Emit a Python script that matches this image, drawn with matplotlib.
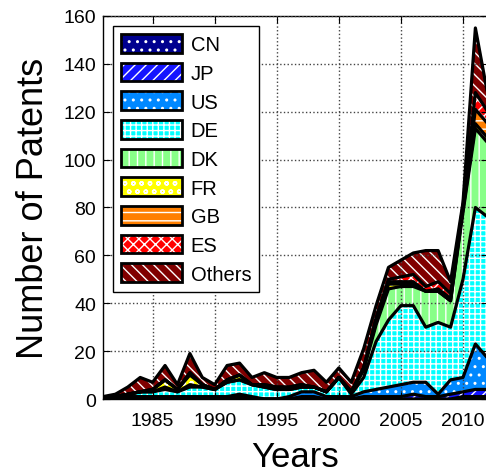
import numpy as np
import matplotlib
matplotlib.use("Agg")
import matplotlib.pyplot as plt
from matplotlib.patches import Patch

plt.rcParams["font.family"] = ["Liberation Sans", "DejaVu Sans"]

# Patent counts per year and applicant country
years = list(range(1981, 2013))
cn = [0, 0, 0, 0, 0, 0, 0, 0, 0, 0, 0, 1, 0, 0, 0, 0, 0, 0, 0, 0, 0, 0, 0, 0, 0, 0, 0, 0, 0, 1, 1, 1]
jp = [0, 0, 0, 0, 0, 0, 0, 0, 0, 0, 0, 0, 0, 0, 0, 0, 1, 1, 0, 0, 0, 1, 1, 1, 1, 2, 1, 1, 2, 2, 3, 3]
us = [0, 0, 1, 1, 1, 1, 1, 1, 1, 1, 1, 1, 1, 0, 0, 1, 2, 2, 1, 1, 1, 2, 3, 4, 5, 5, 6, 1, 6, 6, 19, 13]
de = [0, 1, 1, 2, 2, 3, 2, 4, 4, 3, 6, 6, 5, 5, 4, 3, 2, 2, 2, 8, 1, 6, 20, 28, 33, 32, 23, 30, 22, 41, 57, 59]
dk = [0, 0, 0, 0, 0, 1, 0, 1, 0, 0, 0, 0, 0, 0, 0, 0, 0, 0, 0, 0, 1, 3, 7, 13, 8, 8, 15, 13, 11, 28, 33, 31]
fr = [0, 0, 0, 0, 1, 3, 1, 4, 1, 0, 1, 2, 0, 0, 0, 0, 0, 0, 0, 0, 0, 1, 1, 2, 1, 1, 0, 0, 0, 1, 2, 2]
gb = [0, 0, 0, 0, 0, 0, 0, 1, 0, 0, 0, 0, 0, 1, 1, 1, 1, 0, 0, 0, 0, 0, 1, 1, 1, 1, 0, 1, 1, 1, 6, 6]
es = [0, 0, 0, 0, 0, 0, 0, 0, 0, 0, 0, 0, 0, 0, 0, 0, 0, 0, 0, 0, 0, 0, 1, 1, 2, 3, 2, 3, 2, 1, 7, 5]
others = [1, 1, 3, 6, 3, 6, 2, 8, 3, 2, 6, 5, 3, 5, 4, 4, 5, 7, 4, 4, 4, 8, 5, 5, 7, 9, 15, 13, 5, 1, 27, 7]

labels = ["CN", "JP", "US", "DE", "DK", "FR", "GB", "ES", "Others"]
series = [cn, jp, us, de, dk, fr, gb, es, others]
colors = ["#00008F", "#1414FF", "#0088FF", "#00FFFF", "#88FF88",
          "#FFFF00", "#FF7F00", "#FF0000", "#800000"]
hatches = ["..", "///", "..", "+++", "||", "oo", "--", "xxx", "\\\\\\"]

x_ticks = [1985, 1990, 1995, 2000, 2005, 2010]
y_ticks = [0, 20, 40, 60, 80, 100, 120, 140, 160]

fig = plt.figure(figsize=(4.86, 4.77), dpi=100)
ax = fig.add_axes([0.2119, 0.1614, 0.7918, 0.803])

x = np.array(years, dtype=float)
bottom = np.zeros(len(years))
for vals, c, h in zip(series, colors, hatches):
    top = bottom + np.array(vals, dtype=float)
    ax.fill_between(x, bottom, top, facecolor=c, edgecolor="white",
                    hatch=h, linewidth=0, zorder=1)
    ax.plot(x, top, color="black", linewidth=2.3, zorder=3,
            solid_joinstyle="round", solid_capstyle="round")
    bottom = top
ax.plot(x, np.zeros(len(years)), color="black", linewidth=2.3, zorder=3)

ax.set_xlim(1981, 2012)
ax.set_ylim(0, 160)
ax.set_xticks(x_ticks)
ax.set_yticks(y_ticks)
ax.tick_params(direction="in", length=5, labelsize=14, top=True, right=True)
ax.tick_params(axis="x", pad=9)
ax.tick_params(axis="y", pad=5)
ax.set_axisbelow(False)
ax.grid(True, linestyle=":", color="#444444", linewidth=1.0)
for sp in ax.spines.values():
    sp.set_linewidth(1.0)

ax.set_xlabel("Years", fontsize=25, labelpad=8)
ax.set_ylabel("Number of Patents", fontsize=26, labelpad=9)

handles = []
for c, h in zip(colors, hatches):
    fill = Patch(facecolor=c, edgecolor="white", hatch=h, linewidth=0)
    border = Patch(facecolor="none", edgecolor="black", linewidth=2.0)
    handles.append((fill, border))

leg = ax.legend(handles, labels, loc="upper left", fontsize=14.5,
                frameon=True, fancybox=False, edgecolor="black",
                framealpha=1, borderaxespad=0.5, handlelength=3.0,
                handleheight=1.05, labelspacing=0.42, handletextpad=0.45,
                borderpad=0.4)
leg.get_frame().set_linewidth(1.0)
leg.set_zorder(5)

fig.savefig("out.png", dpi=100)
